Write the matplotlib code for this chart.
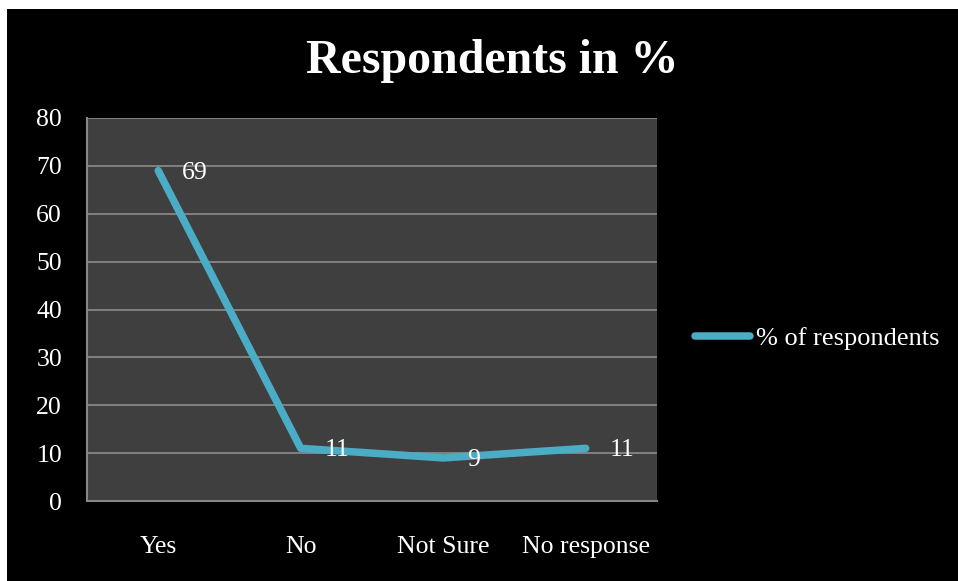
import matplotlib
matplotlib.use("Agg")
import matplotlib.pyplot as plt
from matplotlib.patches import Rectangle

categories = ["Yes", "No", "Not Sure", "No response"]
values = [69, 11, 9, 11]
series_name = "% of respondents"
title = "Respondents in %"
yticks = [0, 10, 20, 30, 40, 50, 60, 70, 80]

plt.rcParams['font.family'] = ['Liberation Serif', 'DejaVu Serif']

W, H = 958, 581
fig = plt.figure(figsize=(W / 100, H / 100), dpi=100, facecolor="white")
fig.patches.append(Rectangle((7 / W, 0), 1 - 7 / W, 1 - 9 / H, transform=fig.transFigure,
                             facecolor="black", edgecolor="none", zorder=-10))

ax = fig.add_axes([87 / W, (H - 501) / H, (657 - 87) / W, (501 - 118) / H])
ax.set_facecolor("#3f3f3f")
line_color = "#4bacc6"
x = list(range(len(categories)))
ax.plot(x, values, color=line_color, lw=5.4, solid_capstyle="round",
        solid_joinstyle="round", label=series_name, zorder=3)
for xi, v in zip(x, values):
    ax.annotate(str(v), (xi, v), xytext=(17, -1.5), textcoords="offset points",
                ha="left", va="center", color="white", fontsize=18.5, zorder=4)

ax.set_xlim(-0.5, len(categories) - 0.5)
ax.set_ylim(0, 80)
ax.set_yticks(yticks)
ax.set_xticks(x)
ax.set_xticklabels(categories)
ax.yaxis.grid(True, color="#868686", lw=1.3)
ax.set_axisbelow(True)
ax.tick_params(axis="both", length=0, colors="white", labelsize=18.5)
ax.tick_params(axis="y", pad=18)
ax.tick_params(axis="x", pad=25)
for s in ["top", "right"]:
    ax.spines[s].set_visible(False)
for s in ["left", "bottom"]:
    ax.spines[s].set_color("#868686")
    ax.spines[s].set_linewidth(1.5)

fig.text(492 / W, 1 - 61 / H, title, ha="center", va="center", color="white",
         fontsize=34.5, fontweight="bold")

leg = fig.legend(loc="center left", bbox_to_anchor=(695 / W, 1 - 338 / H),
                 frameon=False, fontsize=19, handlelength=2.1, handletextpad=0.2,
                 borderpad=0, borderaxespad=0)
for t in leg.get_texts():
    t.set_color("white")

fig.savefig("out.png", dpi=100, facecolor=fig.get_facecolor())
